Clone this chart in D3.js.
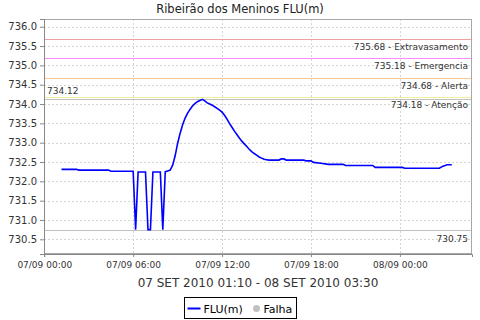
<!DOCTYPE html>
<html>
<head>
<meta charset="utf-8">
<script src="https://cdn.jsdelivr.net/npm/d3@7"></script>
<style>
  body { margin: 0; background: #fff; }
  svg text { font-family: "DejaVu Sans", sans-serif; }
</style>
</head>
<body>
<div id="chart"></div>
<script>
// FLU(m) readings, 10 minute logger (flat stretches kept by their ends)
const times = [
  "07/09 01:10", "07/09 02:10", "07/09 02:20", "07/09 04:20", "07/09 04:30", "07/09 06:00",
  "07/09 06:10", "07/09 06:20", "07/09 06:50", "07/09 07:00", "07/09 07:10", "07/09 07:20",
  "07/09 07:50", "07/09 08:00", "07/09 08:10", "07/09 08:20", "07/09 08:30", "07/09 08:40",
  "07/09 08:50", "07/09 09:00", "07/09 09:10", "07/09 09:20", "07/09 09:30", "07/09 09:40",
  "07/09 09:50", "07/09 10:00", "07/09 10:10", "07/09 10:20", "07/09 10:30", "07/09 10:40",
  "07/09 10:50", "07/09 11:00", "07/09 11:10", "07/09 11:20", "07/09 11:30", "07/09 11:40",
  "07/09 11:50", "07/09 12:00", "07/09 12:10", "07/09 12:20", "07/09 12:30", "07/09 12:40",
  "07/09 12:50", "07/09 13:00", "07/09 13:10", "07/09 13:20", "07/09 13:30", "07/09 13:40",
  "07/09 13:50", "07/09 14:00", "07/09 14:10", "07/09 14:20", "07/09 14:30", "07/09 14:40",
  "07/09 14:50", "07/09 15:00", "07/09 15:10", "07/09 15:50", "07/09 16:00", "07/09 16:10",
  "07/09 16:20", "07/09 17:30", "07/09 17:40", "07/09 18:00", "07/09 18:10", "07/09 18:40",
  "07/09 19:10", "07/09 20:10", "07/09 20:20", "07/09 22:10", "07/09 22:20", "08/09 00:10",
  "08/09 00:20", "08/09 02:40", "08/09 02:50", "08/09 03:00", "08/09 03:10", "08/09 03:30"
]
const flu = [
  732.31, 732.31, 732.29, 732.29, 732.26, 732.26,
  730.75, 732.24, 732.24, 730.75, 730.75, 732.24,
  732.24, 730.75, 732.25, 732.27, 732.29, 732.42,
  732.66, 732.98, 733.24, 733.46, 733.63, 733.76,
  733.86, 733.95, 734.01, 734.06, 734.09, 734.12,
  734.08, 734.03, 734.00, 733.97, 733.93, 733.89,
  733.84, 733.79, 733.71, 733.61, 733.50, 733.40,
  733.30, 733.21, 733.12, 733.04, 732.97, 732.90,
  732.83, 732.77, 732.72, 732.68, 732.63, 732.60,
  732.57, 732.56, 732.55, 732.55, 732.58, 732.58,
  732.55, 732.55, 732.53, 732.53, 732.49, 732.47,
  732.44, 732.44, 732.41, 732.41, 732.36, 732.36,
  732.34, 732.34, 732.38, 732.40, 732.43, 732.43
]

// alarm levels
const levelNames = ["Extravasamento", "Emergencia", "Alerta", "Atenção"]
const levelValues = [735.68, 735.18, 734.68, 734.18]
const levelColors = ["#f0a0a0", "#ff88ff", "#ffc890", "#f2eea0"]

const maxValue = 734.12
const minValue = 730.75

const yTicks = [730.5, 731.0, 731.5, 732.0, 732.5, 733.0, 733.5, 734.0, 734.5, 735.0, 735.5, 736.0]
const xTicks = ["07/09 00:00", "07/09 06:00", "07/09 12:00", "07/09 18:00", "08/09 00:00"]

const title = "Ribeirão dos Meninos FLU(m)"
const xLabel = "07 SET 2010 01:10 - 08 SET 2010 03:30"

const W = 480, H = 320
const margin = { left: 44, right: 8, top: 19, bottom: 66 }
const width = W - margin.left - margin.right
const height = H - margin.top - margin.bottom

const parse = d3.utcParse("%d/%m/%Y %H:%M")
const toDate = (s) => parse(s.slice(0, 5) + "/2010" + s.slice(5))
const data = times.map((t, i) => ({ t: toDate(t), v: flu[i] }))

const svg = d3.select("#chart").append("svg")
  .attr("width", W)
  .attr("height", H)

svg.append("text")
  .attr("x", W / 2)
  .attr("y", 13)
  .attr("text-anchor", "middle")
  .attr("font-size", "11.5px")
  .attr("fill", "#222")
  .text(title)

const g = svg.append("g")
  .attr("transform", "translate(" + margin.left + "," + margin.top + ")")

const x = d3.scaleUtc()
  .domain([toDate("06/09 23:59"), toDate("08/09 04:52")])
  .range([0, width])

const y = d3.scaleLinear()
  .domain([730.12, 736.2])
  .range([height, 0])

// grid
g.append("g").selectAll("line")
  .data(yTicks)
  .enter().append("line")
  .attr("x1", 0).attr("x2", width)
  .attr("y1", (d) => Math.round(y(d)) + 0.5)
  .attr("y2", (d) => Math.round(y(d)) + 0.5)
  .attr("stroke", "#d4d4d4")
  .attr("stroke-dasharray", "2,2")

g.append("g").selectAll("line")
  .data(xTicks)
  .enter().append("line")
  .attr("x1", (d) => Math.round(x(toDate(d))) + 0.5)
  .attr("x2", (d) => Math.round(x(toDate(d))) + 0.5)
  .attr("y1", 0).attr("y2", height)
  .attr("stroke", "#d4d4d4")
  .attr("stroke-dasharray", "2,2")

// level markers
const levels = g.append("g").selectAll("g")
  .data(levelValues)
  .enter().append("g")

levels.append("line")
  .attr("x1", 0).attr("x2", width)
  .attr("y1", (d) => Math.round(y(d)) + 0.5)
  .attr("y2", (d) => Math.round(y(d)) + 0.5)
  .attr("stroke", (d, i) => levelColors[i])

levels.append("text")
  .attr("x", width - 4)
  .attr("y", (d) => y(d) + 11)
  .attr("text-anchor", "end")
  .attr("font-size", "9px")
  .attr("fill", "#333")
  .text((d, i) => d.toFixed(2) + " - " + levelNames[i])

// max / min markers
g.append("line")
  .attr("x1", 0).attr("x2", width)
  .attr("y1", Math.round(y(maxValue)) + 0.5)
  .attr("y2", Math.round(y(maxValue)) + 0.5)
  .attr("stroke", "#c0c0c0")
g.append("text")
  .attr("x", 3)
  .attr("y", y(maxValue) - 5)
  .attr("font-size", "9px")
  .attr("fill", "#333")
  .text(maxValue.toFixed(2))

g.append("line")
  .attr("x1", 0).attr("x2", width)
  .attr("y1", Math.round(y(minValue)) + 0.5)
  .attr("y2", Math.round(y(minValue)) + 0.5)
  .attr("stroke", "#c0c0c0")
g.append("text")
  .attr("x", width - 4)
  .attr("y", y(minValue) + 12)
  .attr("text-anchor", "end")
  .attr("font-size", "9px")
  .attr("fill", "#333")
  .text(minValue.toFixed(2))

// series
const line = d3.line()
  .x((d) => x(d.t))
  .y((d) => y(d.v))

g.append("path")
  .datum(data)
  .attr("d", line)
  .attr("fill", "none")
  .attr("stroke", "#0000ff")
  .attr("stroke-width", 1.6)

// frame
g.append("rect")
  .attr("x", 0.5).attr("y", 0.5)
  .attr("width", width - 1).attr("height", height - 1)
  .attr("fill", "none")
  .attr("stroke", "#a8a8a8")

// axes
const yAxisCall = d3.axisLeft(y)
  .tickValues(yTicks)
  .tickSize(4)
  .tickFormat(d3.format(".1f"))
const yAxis = g.append("g").call(yAxisCall)
yAxis.select(".domain").attr("stroke", "#888")
yAxis.selectAll(".tick line").attr("stroke", "#888")
yAxis.selectAll("text").attr("font-size", "10px").attr("fill", "#333").attr("font-family", "DejaVu Sans")

const xAxisCall = d3.axisBottom(x)
  .tickValues(xTicks.map(toDate))
  .tickSize(3)
  .tickFormat(d3.utcFormat("%d/%m %H:%M"))
const xAxis = g.append("g")
  .attr("transform", "translate(0," + height + ")")
  .call(xAxisCall)
xAxis.select(".domain").attr("stroke", "#888")
xAxis.selectAll(".tick line").attr("stroke", "#888")
xAxis.selectAll("text").attr("font-size", "9px").attr("fill", "#333").attr("font-family", "DejaVu Sans")
  .attr("y", 8)

svg.append("text")
  .attr("x", margin.left + width / 2)
  .attr("y", 287)
  .attr("text-anchor", "middle")
  .attr("font-size", "12px")
  .attr("fill", "#333")
  .text(xLabel)

// legend
const lg = svg.append("g").attr("transform", "translate(184.5,297.5)")
lg.append("rect")
  .attr("width", 112).attr("height", 21)
  .attr("fill", "#fff").attr("stroke", "#000")
lg.append("line")
  .attr("x1", 3).attr("x2", 16).attr("y1", 11).attr("y2", 11)
  .attr("stroke", "#0000ff").attr("stroke-width", 2)
lg.append("text")
  .attr("x", 19).attr("y", 15)
  .attr("font-size", "11px")
  .text("FLU(m)")
lg.append("circle")
  .attr("cx", 72).attr("cy", 11).attr("r", 3.5)
  .attr("fill", "#c0c0c0")
lg.append("text")
  .attr("x", 79).attr("y", 15)
  .attr("font-size", "11px")
  .text("Falha")
</script>
</body>
</html>
